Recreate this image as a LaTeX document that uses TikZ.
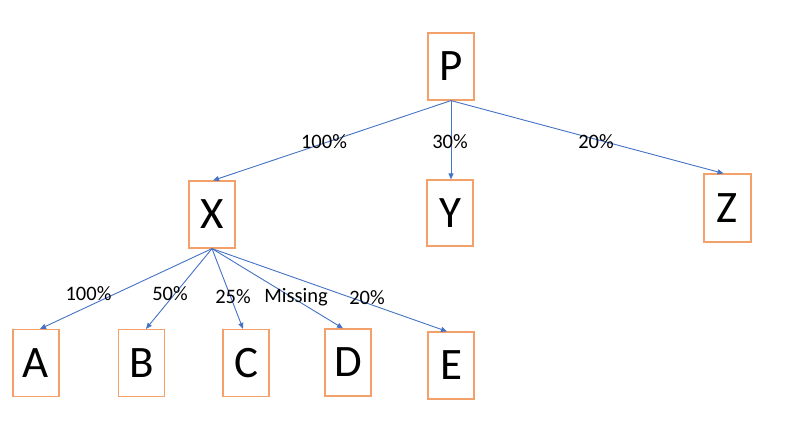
\documentclass[tikz,border=0pt]{standalone}
\usepackage{fontspec}
\setmainfont{Carlito}
\usetikzlibrary{arrows.meta}
\definecolor{boxorange}{HTML}{F4A06A}
\definecolor{lineblue}{HTML}{4472C4}
\tikzset{
  ent/.style={draw=boxorange, line width=1.2pt, fill=white, minimum width=46pt, minimum height=67pt, inner sep=0pt, font=\fontsize{45}{45}\selectfont},
  link/.style={draw=lineblue, line width=0.9pt, -{Triangle[length=6pt,width=5pt]}},
  pct/.style={font=\fontsize{20.5}{20.5}\selectfont, inner sep=0pt}
}
\begin{document}
\begin{tikzpicture}[x=1pt,y=-1pt]
\useasboundingbox (0,0) rectangle (795,442);
\node[ent] (P) at (451,66.5) {P};
\node[ent] (X) at (212,214.5) {X};
\node[ent, minimum height=66pt] (Y) at (450,213) {Y};
\node[ent, minimum width=47pt, minimum height=68pt] (Z) at (727.5,208) {Z};
\node[ent] (A) at (36,363) {A};
\node[ent] (B) at (141.5,363) {B};
\node[ent] (C) at (246,363) {C};
\node[ent] (D) at (348,362.5) {D};
\node[ent] (E) at (451,365.5) {E};

\draw[link] (P.south) -- ([xshift=1pt]X.north);
\draw[link] (P.south) -- ([xshift=1pt]Y.north);
\draw[link] (P.south) -- ([xshift=-4pt]Z.north);
\draw[link] (X.south) -- ([xshift=4pt]A.north);
\draw[link] (X.south) -- ([xshift=4.5pt]B.north);
\draw[link] (X.south) -- ([xshift=-3pt]C.north);
\draw[link] (X.south) -- ([xshift=-5pt]D.north);
\draw[link] (X.south) -- ([xshift=-4pt]E.north);

\node[pct] (l1) at (324,142) {100\%};
\node[pct] (l2) at (450,142) {30\%};
\node[pct] (l3) at (596,142) {20\%};
\node[pct] (l4) at (88.5,294) {100\%};
\node[pct] (l5) at (170,294) {50\%};
\node[pct] (l6) at (233,297) {25\%};
\node[pct] (l7) at (296,297) {Missing};
\node[pct] (l8) at (367,298) {20\%};
\end{tikzpicture}
\end{document}
